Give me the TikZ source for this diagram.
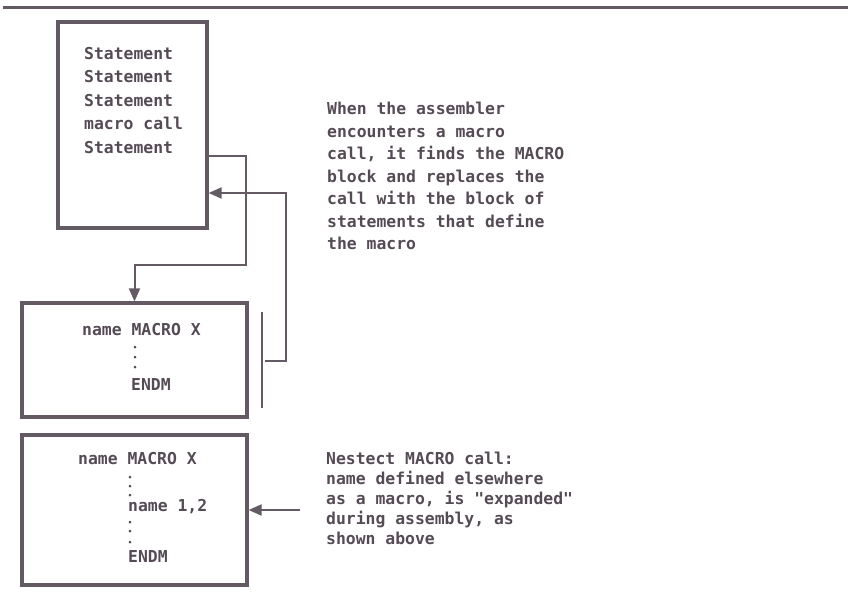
\documentclass[tikz,border=0pt]{standalone}
\usepackage{fontspec}
\setmonofont{DejaVu Sans Mono}
\usetikzlibrary{arrows.meta}
\definecolor{lc}{RGB}{100,90,100}
\definecolor{tc}{RGB}{85,75,85}
\tikzset{
  box/.style={draw=lc, line width=3.2pt, inner sep=0pt, fill=white},
  txt/.style={text=tc, inner sep=0pt, font=\ttfamily\bfseries\fontsize{16.4}{22.5}\selectfont, align=left, anchor=north west},
  conn/.style={draw=lc, line width=2pt},
  tip/.style={-{Triangle[length=13pt,width=11pt]}},
  dotm/.style={fill=tc, draw=none, circle, inner sep=0pt, minimum size=3pt}
}
\begin{document}
\begin{tikzpicture}[x=1pt,y=-1pt]
\path[use as bounding box] (0,0) rectangle (852,597);
\draw[lc, line width=3pt] (3,7) -- (848,7);

% boxes
\node[box, minimum width=149pt, minimum height=206pt] (b1) at (132.5,125) {};
\node[box, minimum width=225pt, minimum height=114pt] (b2) at (134.5,360) {};
\node[box, minimum width=225pt, minimum height=150pt] (b3) at (134.5,510) {};

% box 1 text
\node[txt, font=\ttfamily\bfseries\fontsize{16.4}{23.5}\selectfont] (t1) at (84,47) {Statement\\Statement\\Statement\\macro call\\Statement};

% box 2 text
\node[txt] (t2a) at (82,323) {name MACRO X};
\node[dotm] (d2a) at (135,347) {};
\node[dotm] (d2b) at (135,357) {};
\node[dotm] (d2c) at (135,367) {};
\node[txt] (t2b) at (131,378) {ENDM};

% box 3 text
\node[txt] (t3a) at (78,452) {name MACRO X};
\node[dotm] (d3a) at (130,477) {};
\node[dotm] (d3b) at (130,486) {};
\node[dotm] (d3c) at (130,495) {};
\node[txt] (t3b) at (128,499) {name 1,2};
\node[dotm] (d3d) at (130,522) {};
\node[dotm] (d3e) at (130,531) {};
\node[dotm] (d3f) at (130,542) {};
\node[txt] (t3c) at (128,550) {ENDM};

% right texts
\node[txt] (r1) at (327,102) {When the assembler\\encounters a macro\\call, it finds the MACRO\\block and replaces the\\call with the block of\\statements that define\\the macro};
\node[txt, font=\ttfamily\bfseries\fontsize{16.4}{20}\selectfont] (r2) at (326,452) {Nestect MACRO call:\\name defined elsewhere\\as a macro, is "expanded"\\during assembly, as\\shown above};

% connectors
\coordinate (p1) at (b1.east |- 0,156);
\coordinate (c1) at (246,265);
\draw[conn, tip] (p1) -| (c1) -| (b2.north);

\coordinate (brt) at (262,312);
\coordinate (brb) at (262,408);
\draw[conn] (brt) -- (brb);
\coordinate (q0) at (265,361);
\coordinate (q1) at (286,193);
\draw[conn, tip] (q0) -| (q1) -- (b1.east |- q1);

\coordinate (a3) at (300,510);
\draw[conn, tip] (a3) -- (b3.east |- a3);
\end{tikzpicture}
\end{document}
